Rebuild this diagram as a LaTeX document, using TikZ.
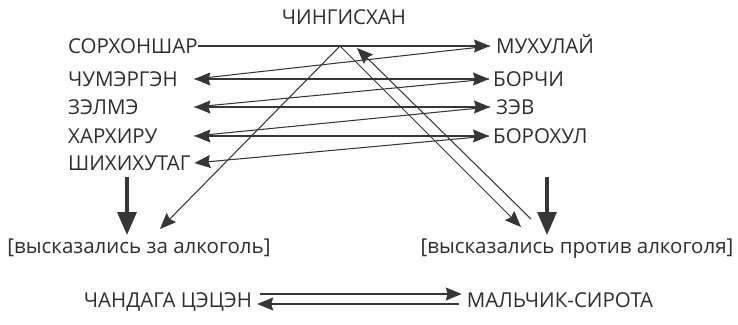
\documentclass[tikz,border=0pt]{standalone}
\usepackage{fontspec}
\setmainfont{Open Sans}
\usetikzlibrary{arrows.meta,calc}
\definecolor{ink}{HTML}{2E2E2E}
\definecolor{ln}{HTML}{363636}
\begin{document}
\begin{tikzpicture}[x=1pt,y=-1pt,
  lbl/.style={font=\fontsize{20.5}{24}\selectfont, text=ink, inner sep=0pt, text height=14.6pt, text depth=0pt},
  leftname/.style={lbl, anchor=west, text width=126pt, align=left},
  rightname/.style={lbl, anchor=west},
  conn/.style={draw=ln, line width=1.05pt},
  tip/.style={-{Stealth[length=16pt,width=13pt,inset=2pt]}},
  tipL/.style={{Stealth[length=16pt,width=13pt,inset=2pt]}-},
  both/.style={{Stealth[length=16pt,width=13pt,inset=2pt]}-{Stealth[length=16pt,width=13pt,inset=2pt]}},
  big/.style={draw=ln, line width=3.5pt, -{Triangle[length=23pt,width=19pt]}}]
\useasboundingbox (0,0) rectangle (738,324);

% names
\node[lbl] (ching) at (344,17) {ЧИНГИСХАН};
\node[leftname, text width=130pt] (sor) at (68,46) {СОРХОНШАР};
\node[leftname] (chum) at (68,79) {ЧУМЭРГЭН};
\node[leftname] (zel) at (68,107) {ЗЭЛМЭ};
\node[leftname] (khar) at (68,136) {ХАРХИРУ};
\node[leftname] (shi) at (68,163) {ШИХИХУТАГ};

\node[rightname, inner xsep=6pt] (mukh) at (490,46) {МУХУЛАЙ};
\node[rightname, inner xsep=4pt] (borchi) at (489,79) {БОРЧИ};
\node[rightname, inner xsep=6pt] (zev) at (490,107) {ЗЭВ};
\node[rightname, inner xsep=4pt] (borokh) at (489,136) {БОРОХУЛ};

\node[lbl, text height=15pt, text depth=4pt] (za) at (139,248) {[высказались за алкоголь]};
\node[lbl, text height=15pt, text depth=4pt] (pro) at (577,248) {[высказались против алкоголя]};

\node[lbl, inner xsep=5pt] (chand) at (168,300) {ЧАНДАГА ЦЭЦЭН};
\node[lbl, inner xsep=5pt] (malch) at (560,300) {МАЛЬЧИК-СИРОТА};

% free ends
\coordinate (apex) at (340,46);
\coordinate (zaTip) at (160,229);
\coordinate (proTip) at (521,227);
\coordinate (retStart) at (531,219);
\coordinate (retTip) at (357,48);
\coordinate (bigLa) at (127,177);
\coordinate (bigLb) at (127,235);
\coordinate (bigRa) at (547,177);
\coordinate (bigRb) at (547,235);

% rows
\draw[conn,tip] (sor.east) -- (mukh.west);
\draw[conn] (mukh.west) -- (chum.east);
\draw[conn,both] (chum.east) -- (borchi.west);
\draw[conn] (borchi.west) -- (zel.east);
\draw[conn,both] (zel.east) -- (zev.west);
\draw[conn] (zev.west) -- (khar.east);
\draw[conn,both] (khar.east) -- (borokh.west);
\draw[conn,tipL] (shi.east) -- (borokh.west);

% triangle
\draw[conn,tip] (apex) -- (zaTip);
\draw[conn,tip] (apex) -- (proTip);
\draw[conn,tip] (retStart) -- (retTip);

% big arrows
\draw[big] (bigLa) -- (bigLb);
\draw[big] (bigRa) -- (bigRb);

% bottom
\draw[conn,tip] ([yshift=6pt,xshift=3pt]chand.east) -- ([yshift=6pt]malch.west);
\draw[conn,tip] ([yshift=-4pt,xshift=-3pt]malch.west) -- ([yshift=-4pt]chand.east);
\end{tikzpicture}
\end{document}
